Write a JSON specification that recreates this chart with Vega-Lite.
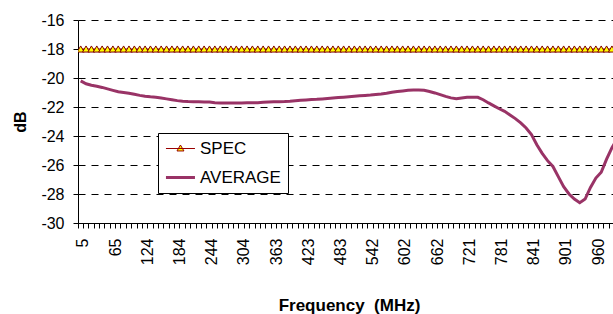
{
  "$schema": "https://vega.github.io/schema/vega-lite/v6.json",
  "autosize": {"type": "none"},
  "padding": {"left": 78, "top": 20, "right": -7, "bottom": 91},
  "width": 542,
  "height": 203,
  "background": "white",
  "config": {
    "view": {"stroke": null},
    "font": "Liberation Sans",
    "axis": {"labelFont": "Liberation Sans", "titleFont": "Liberation Sans", "labelColor": "#000", "titleColor": "#000", "domainColor": "#000", "tickColor": "#000"},
    "axisY": {
      "title": "dB", "titleFontSize": 16, "titleFontWeight": "bold", "titlePadding": 12,
      "labelFontSize": 16, "labelPadding": 9, "tickSize": 5,
      "labelOverlap": false,
      "grid": true, "gridColor": "#000", "gridDash": [7, 6], "gridWidth": 1
    }
  },
  "data": {"values": [
    {"f":5,"spec":-18,"avg":-20.2},{"f":15,"spec":-18,"avg":-20.4},{"f":25,"spec":-18,"avg":-20.5},{"f":35,"spec":-18,"avg":-20.57},{"f":45,"spec":-18,"avg":-20.65},
    {"f":55,"spec":-18,"avg":-20.75},{"f":65,"spec":-18,"avg":-20.85},{"f":75,"spec":-18,"avg":-20.95},{"f":85,"spec":-18,"avg":-21.0},{"f":95,"spec":-18,"avg":-21.05},
    {"f":105,"spec":-18,"avg":-21.12},{"f":114,"spec":-18,"avg":-21.2},{"f":124,"spec":-18,"avg":-21.26},{"f":134,"spec":-18,"avg":-21.3},{"f":144,"spec":-18,"avg":-21.33},
    {"f":154,"spec":-18,"avg":-21.38},{"f":164,"spec":-18,"avg":-21.44},{"f":174,"spec":-18,"avg":-21.5},{"f":184,"spec":-18,"avg":-21.56},{"f":194,"spec":-18,"avg":-21.6},
    {"f":204,"spec":-18,"avg":-21.62},{"f":214,"spec":-18,"avg":-21.63},{"f":224,"spec":-18,"avg":-21.64},{"f":234,"spec":-18,"avg":-21.65},{"f":244,"spec":-18,"avg":-21.66},
    {"f":254,"spec":-18,"avg":-21.7},{"f":264,"spec":-18,"avg":-21.72},{"f":274,"spec":-18,"avg":-21.72},{"f":284,"spec":-18,"avg":-21.72},{"f":294,"spec":-18,"avg":-21.72},
    {"f":304,"spec":-18,"avg":-21.72},{"f":313,"spec":-18,"avg":-21.71},{"f":323,"spec":-18,"avg":-21.71},{"f":333,"spec":-18,"avg":-21.7},{"f":343,"spec":-18,"avg":-21.68},
    {"f":353,"spec":-18,"avg":-21.66},{"f":363,"spec":-18,"avg":-21.64},{"f":373,"spec":-18,"avg":-21.63},{"f":383,"spec":-18,"avg":-21.62},{"f":393,"spec":-18,"avg":-21.6},
    {"f":403,"spec":-18,"avg":-21.57},{"f":413,"spec":-18,"avg":-21.54},{"f":423,"spec":-18,"avg":-21.51},{"f":433,"spec":-18,"avg":-21.49},{"f":443,"spec":-18,"avg":-21.47},
    {"f":453,"spec":-18,"avg":-21.44},{"f":463,"spec":-18,"avg":-21.41},{"f":473,"spec":-18,"avg":-21.38},{"f":483,"spec":-18,"avg":-21.35},{"f":493,"spec":-18,"avg":-21.32},
    {"f":503,"spec":-18,"avg":-21.29},{"f":512,"spec":-18,"avg":-21.26},{"f":522,"spec":-18,"avg":-21.23},{"f":532,"spec":-18,"avg":-21.2},{"f":542,"spec":-18,"avg":-21.17},
    {"f":552,"spec":-18,"avg":-21.13},{"f":562,"spec":-18,"avg":-21.1},{"f":572,"spec":-18,"avg":-21.05},{"f":582,"spec":-18,"avg":-20.98},{"f":592,"spec":-18,"avg":-20.93},
    {"f":602,"spec":-18,"avg":-20.89},{"f":612,"spec":-18,"avg":-20.85},{"f":622,"spec":-18,"avg":-20.83},{"f":632,"spec":-18,"avg":-20.83},{"f":642,"spec":-18,"avg":-20.85},
    {"f":652,"spec":-18,"avg":-20.93},{"f":662,"spec":-18,"avg":-21.03},{"f":672,"spec":-18,"avg":-21.15},{"f":682,"spec":-18,"avg":-21.27},{"f":692,"spec":-18,"avg":-21.37},
    {"f":702,"spec":-18,"avg":-21.43},{"f":711,"spec":-18,"avg":-21.38},{"f":721,"spec":-18,"avg":-21.33},{"f":731,"spec":-18,"avg":-21.32},{"f":741,"spec":-18,"avg":-21.33},
    {"f":751,"spec":-18,"avg":-21.5},{"f":761,"spec":-18,"avg":-21.72},{"f":771,"spec":-18,"avg":-21.92},{"f":781,"spec":-18,"avg":-22.12},{"f":791,"spec":-18,"avg":-22.3},
    {"f":801,"spec":-18,"avg":-22.55},{"f":811,"spec":-18,"avg":-22.8},{"f":821,"spec":-18,"avg":-23.1},{"f":831,"spec":-18,"avg":-23.45},{"f":841,"spec":-18,"avg":-23.9},
    {"f":851,"spec":-18,"avg":-24.6},{"f":861,"spec":-18,"avg":-25.2},{"f":871,"spec":-18,"avg":-25.7},{"f":881,"spec":-18,"avg":-26.1},{"f":891,"spec":-18,"avg":-26.8},
    {"f":901,"spec":-18,"avg":-27.5},{"f":910,"spec":-18,"avg":-28.0},{"f":920,"spec":-18,"avg":-28.35},{"f":930,"spec":-18,"avg":-28.6},{"f":940,"spec":-18,"avg":-28.35},
    {"f":950,"spec":-18,"avg":-27.55},{"f":960,"spec":-18,"avg":-26.9},{"f":970,"spec":-18,"avg":-26.5},{"f":980,"spec":-18,"avg":-25.6},{"f":990,"spec":-18,"avg":-24.8},
    {"f":1000,"spec":-18,"avg":-24.2}
  ]},
  "encoding": {
    "x": {
      "field": "f", "type": "ordinal",
      "scale": {"type": "band", "paddingInner": 0, "paddingOuter": 0},
      "axis": {
        "title": "Frequency\u00a0 (MHz)",
        "titleFontSize": 17, "titleFontWeight": "bold", "titlePadding": 33,
        "labelFontSize": 16, "labelAngle": -90, "labelPadding": 10,
        "labelOverlap": false,
        "labelExpr": "indexof([5,65,124,184,244,304,363,423,483,542,602,662,721,781,841,901,960], datum.value) >= 0 ? datum.label : ''",
        "bandPosition": 0, "labelOffset": 2.68,
        "tickSize": 5, "domainWidth": 1, "grid": false
      }
    }
  },
  "layer": [
    {
      "mark": {"type": "line", "strokeWidth": 1.2, "clip": true},
      "encoding": {
        "y": {"field": "spec", "type": "quantitative",
          "scale": {"domain": [-30, -16], "nice": false, "zero": false},
          "axis": {"title": "dB", "values": [-30,-28,-26,-24,-22,-20,-18,-16], "labelExpr": "'' + datum.value", "labelOverlap": false}
        },
        "color": {"datum": "SPEC", "type": "nominal",
          "scale": {"domain": ["SPEC", "AVERAGE"], "range": ["#990000", "#993366"]},
          "legend": {
            "title": null, "orient": "none", "legendX": 80, "legendY": 113,
            "strokeColor": "#000", "fillColor": "#fff", "padding": 7,
            "symbolSize": 841, "labelFontSize": 17, "labelFont": "Liberation Sans", "labelColor": "#000",
            "labelOffset": 18, "rowPadding": 11,
            "encode": {
              "symbols": {"update": {
                "shape": {"signal": "datum.value === 'SPEC' ? 'M-0.52,0H1.48M0.48,-0.24L0.72,0.17L0.24,0.17Z' : 'M-0.52,0H1.48'"},
                "size": {"value": 841},
                "fill": {"signal": "datum.value === 'SPEC' ? '#ffff00' : 'transparent'"},
                "stroke": {"signal": "datum.value === 'SPEC' ? '#990000' : '#993366'"},
                "strokeWidth": {"signal": "datum.value === 'SPEC' ? 1 : 3"},
                "opacity": {"value": 1}
              }}
            }
          }
        }
      }
    },
    {
      "mark": {"type": "point", "shape": "triangle-up", "filled": true, "fill": "#ffff00", "stroke": "#800000", "strokeWidth": 1, "size": 50, "opacity": 1, "clip": true},
      "encoding": {"y": {"field": "spec", "type": "quantitative",
        "axis": {"title": "dB", "values": [-30,-28,-26,-24,-22,-20,-18,-16], "labelExpr": "'' + datum.value", "labelOverlap": false}}}
    },
    {
      "mark": {"type": "line", "strokeWidth": 3, "clip": true},
      "encoding": {
        "y": {"field": "avg", "type": "quantitative",
          "axis": {"title": "dB", "values": [-30,-28,-26,-24,-22,-20,-18,-16], "labelExpr": "'' + datum.value", "labelOverlap": false}},
        "color": {"datum": "AVERAGE", "type": "nominal"}
      }
    }
  ]
}
